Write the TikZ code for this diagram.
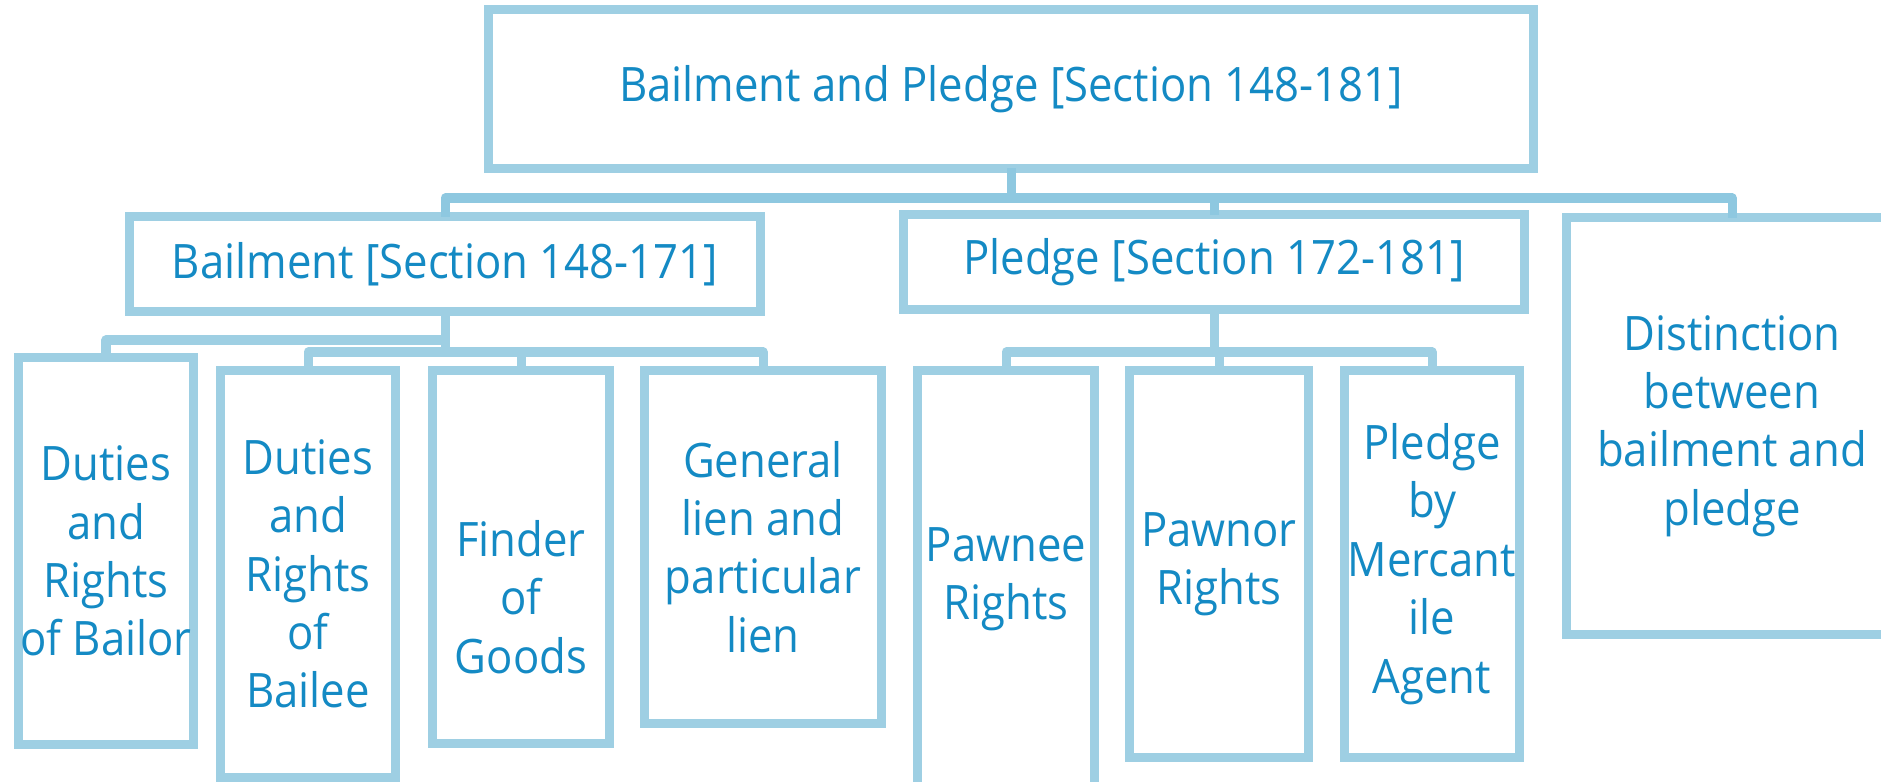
\documentclass[tikz,border=0pt]{standalone}
\usepackage{fontspec}
\setmainfont{Open Sans}[FakeStretch=0.92]
\definecolor{lineblue}{RGB}{158, 207, 227}
\definecolor{barblue}{RGB}{142, 200, 224}
\definecolor{textblue}{RGB}{20, 138, 196}
\usetikzlibrary{positioning}

\begin{document}
\begin{tikzpicture}[x=0.01cm, y=-0.01cm,
  chartbox/.style={draw=lineblue, line width=0.09cm, fill=white, inner sep=0pt, outer sep=0pt,
    align=center, text=textblue, font=\fontsize{13.5}{16.6}\selectfont},
  chartlabel/.style={inner sep=0pt, align=center, text=textblue, font=\fontsize{13.5}{16.6}\selectfont},
  connector/.style={draw=lineblue, line width=0.09cm, line join=round}]
  \useasboundingbox (0,0) rectangle (1881,782);
  \clip (0,0) rectangle (1881,782);

  % top level
  \node[chartbox, minimum width=10.44cm, minimum height=1.58cm] (root) at (1011,89) {Bailment and Pledge [Section 148-181]};

  % second level
  \node[chartbox, minimum width=6.30cm, minimum height=0.94cm] (bailment) at (445,264) {Bailment [Section 148-171]};
  \node[chartbox, minimum width=6.21cm, minimum height=0.94cm] (pledge) at (1214,262) {Pledge [Section 172-181]};
  \node[chartbox, minimum width=3.30cm, minimum height=4.16cm] (distinction) at (1732,426) {Distinction\\between\\bailment and\\pledge};

  % bailment branch
  \node[chartbox, minimum width=1.75cm, minimum height=3.86cm] (bailor) at (106,551) {Duties\\and\\Rights\\of Bailor};
  \node[chartbox, minimum width=1.74cm, minimum height=4.06cm] (bailee) at (308,574) {Duties\\and\\Rights\\of\\Bailee};
  \node[chartbox, minimum width=1.76cm, minimum height=3.73cm] (finder) at (521,557) {};
  \node[chartlabel] (findertext) at (521,597) {Finder\\of\\Goods};
  \node[chartbox, minimum width=2.37cm, minimum height=3.53cm] (lien) at (763,547) {General\\lien and\\particular\\lien};

  % pledge branch
  \node[chartbox, minimum width=1.77cm, minimum height=4.16cm] (pawnee) at (1006,579) {Pawnee\\Rights};
  \node[chartbox, minimum width=1.78cm, minimum height=3.86cm] (pawnor) at (1219,564) {Pawnor\\Rights};
  \node[chartbox, minimum width=1.74cm, minimum height=3.86cm] (mercantile) at (1432,564) {Pledge\\by\\Mercant\\ile\\Agent};

  % connector bars
  \coordinate (rootbar) at (0,198);
  \coordinate (leftbar) at (0,340);
  \coordinate (midbar) at (0,352);

  \draw[connector, draw=barblue] (root.south) -- (root.south |- rootbar);
  \draw[connector, draw=barblue] (bailment.north) |- (distinction.north |- rootbar) -- (distinction.north);
  \draw[connector, draw=barblue] (pledge.north) -- (pledge.north |- rootbar);

  \draw[connector] (bailment.south) -- (bailment.south |- midbar);
  \draw[connector] (bailor.north) |- (bailment.south |- leftbar);
  \draw[connector] (bailee.north) |- (lien.north |- midbar) -- (lien.north);
  \draw[connector] (finder.north) -- (finder.north |- midbar);

  \draw[connector] (pledge.south) -- (pledge.south |- midbar);
  \draw[connector] (pawnee.north) |- (mercantile.north |- midbar) -- (mercantile.north);
  \draw[connector] (pawnor.north) -- (pawnor.north |- midbar);
\end{tikzpicture}
\end{document}
